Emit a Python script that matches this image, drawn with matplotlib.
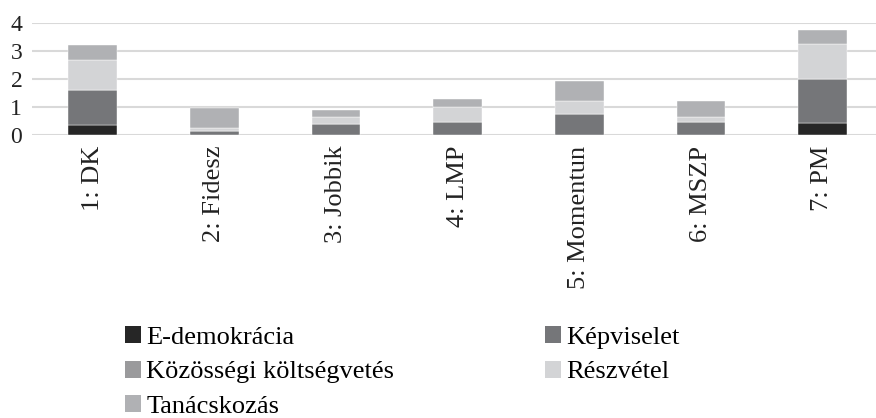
"""Stacked bar chart: e-participation categories per party."""
import matplotlib
matplotlib.use('Agg')
import matplotlib.pyplot as plt
from matplotlib.patches import Patch
import numpy as np

plt.rcParams.update({
    'font.family': ['Liberation Serif', 'DejaVu Serif'],
    'font.size': 19,
})

parties = ['1: DK', '2: Fidesz', '3: Jobbik', '4: LMP', '5: Momentun', '6: MSZP', '7: PM']
series = ['E-demokrácia', 'Képviselet', 'Közösségi költségvetés', 'Részvétel', 'Tanácskozás']
e_demokracia = [0.35, 0.00, 0.00, 0.00, 0.00, 0.00, 0.43]
kepviselet = [1.25, 0.13, 0.38, 0.44, 0.73, 0.46, 1.58]
kozossegi = [0.00, 0.00, 0.00, 0.00, 0.00, 0.00, 0.00]
reszvetel = [1.08, 0.11, 0.24, 0.55, 0.49, 0.19, 1.25]
tanacskozas = [0.53, 0.73, 0.25, 0.29, 0.72, 0.56, 0.49]
colors = ['#262626', '#757679', '#9a9a9c', '#d3d4d6', '#b0b1b4']

values = [e_demokracia, kepviselet, kozossegi, reszvetel, tanacskozas]

fig = plt.figure(figsize=(8.76, 4.18), dpi=100)
ax = fig.add_axes([32 / 876, 1 - 134.7 / 418, 1 - 32 / 876, (134.7 - 23) / 418])

x = np.arange(len(parties))
bottom = np.zeros(len(parties))
for vals, col in zip(values, colors):
    ax.bar(x, vals, width=0.4, bottom=bottom, color=col, edgecolor='white',
           linewidth=0.3, zorder=3)
    bottom += np.array(vals)

ax.set_ylim(0, 4)
ax.set_yticks([0, 1, 2, 3, 4])
ax.set_xlim(-0.5, 6.44)
ax.set_xticks(x)
ax.set_xticklabels(parties, rotation=90, va='top', ha='center')
ax.tick_params(length=0, colors='#222222')
ax.tick_params(axis='y', pad=7, labelsize=17)
ax.tick_params(axis='x', pad=8)
ax.grid(True, axis='y', color='#d9d9d9', linewidth=1.5, zorder=0)
for s in ax.spines.values():
    s.set_visible(False)

# row-wise legend order: matplotlib fills columns first
order = [0, 2, 4, 1, 3]
handles = [Patch(facecolor=colors[i], edgecolor='none') for i in order]
labels = [series[i] for i in order]
fig.legend(handles, labels, ncol=2, frameon=False, loc='upper left',
           bbox_to_anchor=(112 / 876, 1 - 313 / 418), borderpad=0,
           handlelength=0.6, handleheight=0.6, handletextpad=0.2,
           columnspacing=5.7, labelspacing=0.45, fontsize=19)

fig.savefig('out.png', dpi=100)
